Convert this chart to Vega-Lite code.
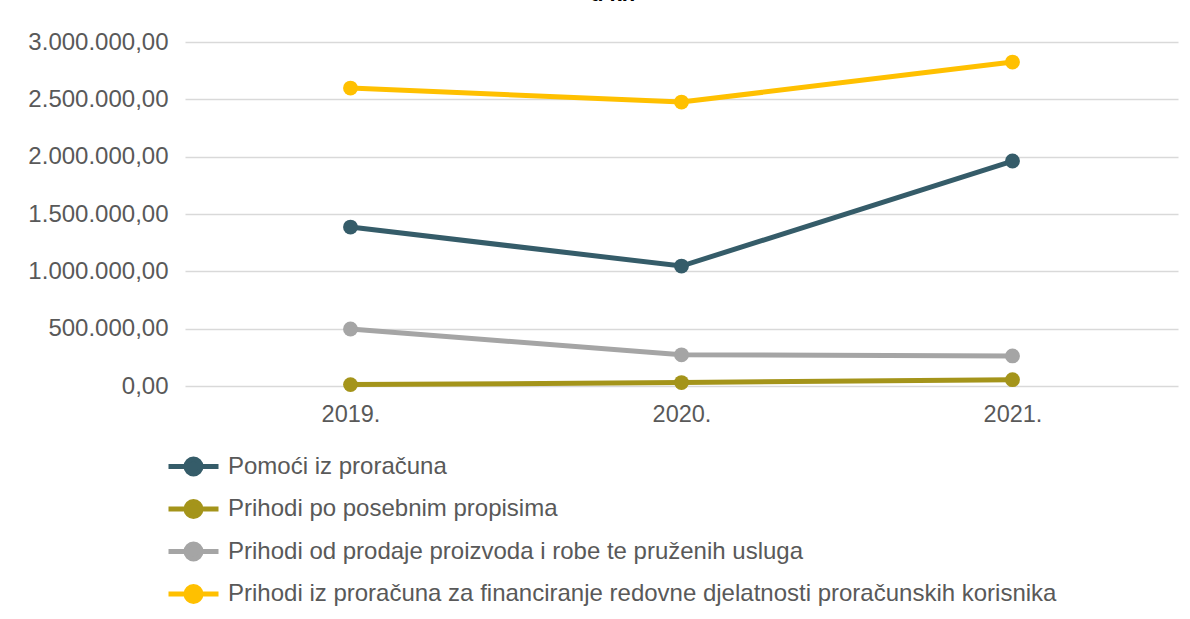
{
  "$schema": "https://vega.github.io/schema/vega-lite/v6.json",
  "autosize": "none",
  "width": 993,
  "height": 344,
  "padding": {"left": 185, "top": 42, "right": 12, "bottom": 233},
  "background": "white",
  "title": {"text": "u kn", "fontSize": 22, "fontWeight": "bold", "font": "Liberation Sans", "color": "#000000", "anchor": "middle", "dx": -69, "offset": 24},
  "config": {
    "locale": {"number": {"decimal": ",", "thousands": ".", "grouping": [3], "currency": ["", ""]}},
    "view": {"stroke": null},
    "font": "Liberation Sans"
  },
  "data": {
    "values": [
      {"godina": "2019.", "serija": "Pomoći iz proračuna", "iznos": 1386000},
      {"godina": "2020.", "serija": "Pomoći iz proračuna", "iznos": 1046000},
      {"godina": "2021.", "serija": "Pomoći iz proračuna", "iznos": 1962000},
      {"godina": "2019.", "serija": "Prihodi po posebnim propisima", "iznos": 12000},
      {"godina": "2020.", "serija": "Prihodi po posebnim propisima", "iznos": 30000},
      {"godina": "2021.", "serija": "Prihodi po posebnim propisima", "iznos": 55000},
      {"godina": "2019.", "serija": "Prihodi od prodaje proizvoda i robe te pruženih usluga", "iznos": 497000},
      {"godina": "2020.", "serija": "Prihodi od prodaje proizvoda i robe te pruženih usluga", "iznos": 272000},
      {"godina": "2021.", "serija": "Prihodi od prodaje proizvoda i robe te pruženih usluga", "iznos": 262000},
      {"godina": "2019.", "serija": "Prihodi iz proračuna za financiranje redovne djelatnosti proračunskih korisnika", "iznos": 2598000},
      {"godina": "2020.", "serija": "Prihodi iz proračuna za financiranje redovne djelatnosti proračunskih korisnika", "iznos": 2476000},
      {"godina": "2021.", "serija": "Prihodi iz proračuna za financiranje redovne djelatnosti proračunskih korisnika", "iznos": 2825000}
    ]
  },
  "encoding": {
    "x": {
      "field": "godina", "type": "ordinal", "title": null,
      "scale": {"type": "point", "padding": 0.5},
      "axis": {"labelAngle": 0, "labelFontSize": 23.5, "labelColor": "#595959", "ticks": false, "domain": false, "grid": false, "labelPadding": 16}
    },
    "y": {
      "field": "iznos", "type": "quantitative", "title": null,
      "scale": {"domain": [0, 3000000], "nice": false},
      "axis": {"values": [0, 500000, 1000000, 1500000, 2000000, 2500000, 3000000], "format": ",.2f", "labelFontSize": 24, "labelColor": "#595959", "ticks": false, "domain": false, "gridColor": "#d9d9d9", "gridWidth": 1.5, "labelPadding": 17}
    },
    "color": {
      "field": "serija", "type": "nominal",
      "scale": {
        "domain": ["Pomoći iz proračuna", "Prihodi po posebnim propisima", "Prihodi od prodaje proizvoda i robe te pruženih usluga", "Prihodi iz proračuna za financiranje redovne djelatnosti proračunskih korisnika"],
        "range": ["#355C69", "#A4941A", "#A5A5A5", "#FFC000"]
      },
      "legend": {
        "title": null, "orient": "none", "direction": "vertical",
        "legendX": -4, "legendY": 412,
        "labelFontSize": 24, "labelColor": "#595959", "labelLimit": 1000, "labelOffset": 22,
        "rowPadding": 7.5,
        "symbolType": "M-2.5,0H2.5M0.75,0A0.75,0.75,0,1,1,-0.75,0A0.75,0.75,0,1,1,0.75,0Z",
        "symbolSize": 400, "symbolStrokeWidth": 5,
        "encode": {"symbols": {"update": {"fill": {"scale": "color", "field": "value"}, "stroke": {"scale": "color", "field": "value"}, "strokeWidth": {"value": 5}, "opacity": {"value": 1}}}}
      }
    }
  },
  "layer": [
    {"mark": {"type": "line", "strokeWidth": 5}},
    {"mark": {"type": "point", "filled": true, "size": 220, "opacity": 1}}
  ]
}
